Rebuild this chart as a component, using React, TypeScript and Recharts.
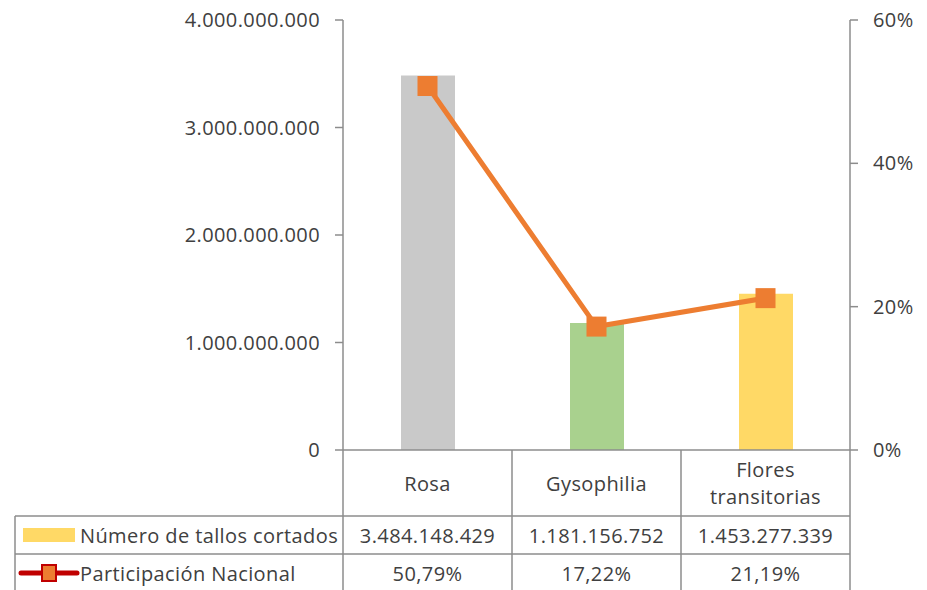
import { ComposedChart, Bar, Line, XAxis, YAxis, Cell } from "recharts"

const categorias = ["Rosa", "Gysophilia", "Flores transitorias"]
const etiquetas = [["Rosa"], ["Gysophilia"], ["Flores", "transitorias"]]
const tallosCortados = [3484148429, 1181156752, 1453277339]
const participacionNacional = [50.79, 17.22, 21.19]
const coloresBarras = ["#C9C9C9", "#A9D18E", "#FFD966"]
const ticksTallos = [0, 1000000000, 2000000000, 3000000000, 4000000000]
const ticksParticipacion = [0, 0.2, 0.4, 0.6]

const data = categorias.map((c, i) => ({
  name: c,
  tallos: tallosCortados[i],
  participacion: participacionNacional[i] / 100,
}))

const FONT = "'Open Sans', sans-serif"
const TEXT = "#404040"
const GRID = "#8C8C8C"
const SPACING = 0.4
const W = 927
const H = 590
const PLOT_LEFT = 343
const PLOT_RIGHT = 850
const PLOT_BOTTOM = 450
const ROW1 = 516
const ROW2 = 554
const TABLE_LEFT = 15
const BAND = (PLOT_RIGHT - PLOT_LEFT) / categorias.length

const miles = (v: number) => String(v).replace(/\B(?=(\d{3})+(?!\d))/g, ".")
const pct = (v: number) => `${v.toFixed(2).replace(".", ",")}%`

function TableTick(props: any) {
  const { x, index } = props
  const left = x - BAND / 2
  const right = x + BAND / 2
  const lines = etiquetas[index] ?? [String(props.payload?.value)]
  const lh = 27
  const startY = 483 - ((lines.length - 1) * lh) / 2
  return (
    <g fontFamily={FONT} fontSize={20} fill={TEXT} letterSpacing={SPACING}>
      {index === 0 && (
        <g>
          <line x1={left} x2={left} y1={PLOT_BOTTOM} y2={H} stroke={GRID} strokeWidth={1.5} />
          <line x1={TABLE_LEFT} x2={left} y1={ROW1} y2={ROW1} stroke={GRID} strokeWidth={1.5} />
          <line x1={TABLE_LEFT} x2={left} y1={ROW2} y2={ROW2} stroke={GRID} strokeWidth={1.5} />
          <line x1={TABLE_LEFT} x2={TABLE_LEFT} y1={ROW1} y2={H} stroke={GRID} strokeWidth={1.5} />
          <rect x={23} y={528} width={52} height={14} fill="#FFD966" />
          <text x={80} y={535} dominantBaseline="central" fill={TEXT}>Número de tallos cortados</text>
          <line x1={21} x2={77} y1={573} y2={573} stroke="#C00000" strokeWidth={5} strokeLinecap="round" />
          <rect x={42} y={565} width={14} height={16} fill="#ED7D31" stroke="#C00000" strokeWidth={2} />
          <text x={80} y={573} dominantBaseline="central" fill={TEXT}>Participación Nacional</text>
        </g>
      )}
      <line x1={right} x2={right} y1={PLOT_BOTTOM} y2={H} stroke={GRID} strokeWidth={1.5} />
      <line x1={left} x2={right} y1={ROW1} y2={ROW1} stroke={GRID} strokeWidth={1.5} />
      <line x1={left} x2={right} y1={ROW2} y2={ROW2} stroke={GRID} strokeWidth={1.5} />
      {lines.map((l: string, i: number) => (
        <text key={i} x={x} y={startY + i * lh} textAnchor="middle" dominantBaseline="central" fill={TEXT}>
          {l}
        </text>
      ))}
      <text x={x} y={535} textAnchor="middle" dominantBaseline="central" fill={TEXT}>
        {miles(tallosCortados[index])}
      </text>
      <text x={x} y={573} textAnchor="middle" dominantBaseline="central" fill={TEXT}>
        {pct(participacionNacional[index])}
      </text>
    </g>
  )
}

function SquareDot(props: any) {
  const { cx, cy } = props
  if (cx == null || cy == null) return null
  return <rect x={cx - 10} y={cy - 10} width={20} height={20} fill="#ED7D31" />
}

export default function App() {
  return (
    <div style={{ position: "absolute", left: 0, top: 0, background: "#fff" }}>
      <ComposedChart width={W} height={H} data={data} margin={{ top: 20, right: 0, left: 0, bottom: 0 }}>
        <XAxis
          dataKey="name"
          height={H - PLOT_BOTTOM}
          tickLine={false}
          axisLine={{ stroke: GRID, strokeWidth: 1.5 }}
          tick={<TableTick />}
          interval={0}
        />
        <YAxis
          yAxisId="left"
          width={PLOT_LEFT}
          domain={[0, 4000000000]}
          ticks={ticksTallos}
          tickFormatter={miles}
          tickSize={8}
          tickMargin={15}
          axisLine={{ stroke: GRID, strokeWidth: 1.5 }}
          tickLine={{ stroke: GRID, strokeWidth: 1.5 }}
          tick={{ fontFamily: FONT, fontSize: 20, fill: TEXT, letterSpacing: SPACING }}
        />
        <YAxis
          yAxisId="right"
          orientation="right"
          width={W - PLOT_RIGHT}
          domain={[0, 0.6]}
          ticks={ticksParticipacion}
          tickFormatter={(v: number) => `${Math.round(v * 100)}%`}
          tickSize={8}
          tickMargin={15}
          axisLine={{ stroke: GRID, strokeWidth: 1.5 }}
          tickLine={{ stroke: GRID, strokeWidth: 1.5 }}
          tick={{ fontFamily: FONT, fontSize: 20, fill: TEXT, letterSpacing: SPACING }}
        />
        <Bar yAxisId="left" dataKey="tallos" barSize={54} isAnimationActive={false}>
          {data.map((_, i) => (
            <Cell key={i} fill={coloresBarras[i]} />
          ))}
        </Bar>
        <Line
          yAxisId="right"
          dataKey="participacion"
          stroke="#ED7D31"
          strokeWidth={5}
          dot={<SquareDot />}
          activeDot={false}
          isAnimationActive={false}
        />
      </ComposedChart>
    </div>
  )
}
